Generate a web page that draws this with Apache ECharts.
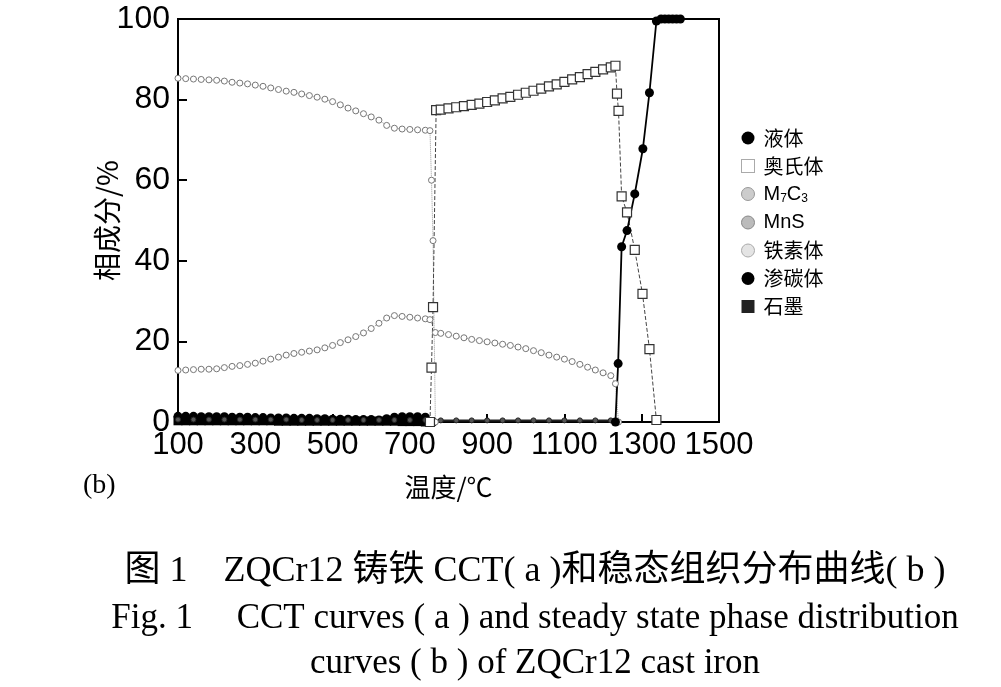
<!DOCTYPE html>
<html><head><meta charset="utf-8">
<script src="https://cdn.jsdelivr.net/npm/echarts@6/dist/echarts.min.js"></script>
<style>html,body{margin:0;padding:0;background:#fff}#c{width:1001px;height:687px}</style>
</head><body><div id="c"></div>
<script>
// ---- data (temperature °C, phase fraction %) ----
const liquidT = [1232, 1239, 1248, 1262, 1282, 1303, 1320, 1338, 1350, 1360, 1370, 1380, 1390, 1400];
const liquidV = [0, 14.5, 43.5, 47.5, 56.6, 67.8, 81.7, 99.5, 100, 100, 100, 100, 100, 100];

const austeniteT = [752, 756, 760, 768, 780, 800, 820, 840, 860, 880, 900, 920, 940, 960, 980, 1000, 1020, 1040, 1060, 1080, 1100, 1120, 1140, 1160, 1180, 1200, 1220, 1232, 1236, 1240, 1248, 1262, 1282, 1302, 1320, 1338];
const austeniteV = [0, 13.5, 28.5, 77.4, 77.5, 77.8, 78.1, 78.4, 78.7, 79.0, 79.4, 79.8, 80.3, 80.7, 81.2, 81.7, 82.2, 82.7, 83.3, 83.8, 84.4, 85.0, 85.6, 86.3, 86.9, 87.5, 88.0, 88.4, 81.5, 77.2, 56.0, 52.0, 42.7, 31.8, 18.1, 0.5];

const m7c3T = [100, 120, 140, 160, 180, 200, 220, 240, 260, 280, 300, 320, 340, 360, 380, 400, 420, 440, 460, 480, 500, 520, 540, 560, 580, 600, 620, 640, 660, 680, 700, 720, 740, 752, 766, 780, 800, 820, 840, 860, 880, 900, 920, 940, 960, 980, 1000, 1020, 1040, 1060, 1080, 1100, 1120, 1140, 1160, 1180, 1200, 1220, 1232, 1240];
const m7c3V = [12.8, 12.9, 13.0, 13.1, 13.1, 13.2, 13.5, 13.8, 14.0, 14.3, 14.6, 15.1, 15.6, 16.1, 16.6, 17.0, 17.3, 17.6, 17.9, 18.4, 19.0, 19.7, 20.4, 21.2, 22.1, 23.2, 24.5, 25.8, 26.4, 26.2, 26.0, 25.8, 25.6, 25.4, 22.2, 22.0, 21.7, 21.3, 20.9, 20.5, 20.2, 19.9, 19.6, 19.3, 19.0, 18.6, 18.2, 17.7, 17.2, 16.6, 16.1, 15.6, 15.0, 14.3, 13.6, 12.9, 12.2, 11.5, 9.5, 0];

const mnsT = [100, 140, 180, 220, 260, 300, 340, 380, 420, 460, 500, 540, 580, 620, 660, 700, 740, 780, 820, 860, 900, 940, 980, 1020, 1060, 1100, 1140, 1180, 1220, 1240];
const mnsV = [0.6, 0.6, 0.6, 0.6, 0.6, 0.6, 0.6, 0.6, 0.5, 0.5, 0.5, 0.5, 0.5, 0.5, 0.5, 0.5, 0.5, 0.4, 0.4, 0.4, 0.4, 0.4, 0.4, 0.4, 0.4, 0.4, 0.4, 0.4, 0.4, 0];

const ferriteT = [100, 120, 140, 160, 180, 200, 220, 240, 260, 280, 300, 320, 340, 360, 380, 400, 420, 440, 460, 480, 500, 520, 540, 560, 580, 600, 620, 640, 660, 680, 700, 720, 740, 752, 756, 760, 766];
const ferriteV = [85.3, 85.2, 85.1, 85.0, 84.9, 84.8, 84.6, 84.3, 84.1, 83.9, 83.6, 83.3, 82.9, 82.5, 82.1, 81.8, 81.4, 81.0, 80.6, 80.1, 79.5, 78.7, 77.9, 77.2, 76.5, 75.7, 74.9, 73.6, 72.9, 72.7, 72.6, 72.5, 72.4, 72.3, 60.0, 45.0, 0];

const cementiteT = [100, 120, 140, 160, 180, 200, 220, 240, 260, 280, 300, 320, 340, 360, 380, 400, 420, 440, 460, 480, 500, 520, 540, 560, 580, 600, 620, 640, 660, 680, 700, 720, 740, 760];
const cementiteV = [1.4, 1.4, 1.4, 1.3, 1.3, 1.3, 1.3, 1.2, 1.2, 1.2, 1.1, 1.1, 1.0, 1.0, 1.0, 0.9, 0.9, 0.9, 0.8, 0.8, 0.7, 0.7, 0.7, 0.6, 0.6, 0.6, 0.5, 0.8, 1.2, 1.3, 1.3, 1.3, 1.2, 0];

const graphiteT = [100, 120, 140, 160, 180, 200, 220, 240, 260, 280, 300, 320, 340, 360, 380, 400, 420, 440, 460, 480, 500, 520, 540, 560, 580, 600, 620, 640, 660, 680, 700, 720, 740];
const graphiteV = [0.3, 0.3, 0.3, 0.3, 0.3, 0.3, 0.3, 0.3, 0.3, 0.3, 0.3, 0.3, 0.3, 0.2, 0.2, 0.2, 0.2, 0.2, 0.2, 0.2, 0.2, 0.2, 0.2, 0.2, 0.2, 0.2, 0.2, 0.2, 0.2, 0.1, 0.1, 0.1, 0];

const legendNames = ['液体', '奥氏体', 'M7C3', 'MnS', '铁素体', '渗碳体', '石墨'];
const xTicks = [100, 300, 500, 700, 900, 1100, 1300, 1500];
const yTicks = [0, 20, 40, 60, 80, 100];

// ---- chart ----
const zip = (t, v) => t.map((x, i) => [x, v[i]]);
const chart = echarts.init(document.getElementById('c'), null, {renderer: 'canvas'});
const sans = '"Liberation Sans", Arial, "Noto Sans CJK SC", sans-serif';
const cjk = '"Noto Sans CJK SC", "Liberation Sans", sans-serif';
const serif = '"Liberation Serif", "Times New Roman", "Noto Sans CJK SC", serif';

function lineSeries(name, t, v, o) {
  return Object.assign({
    name, type: 'line', data: zip(t, v), showSymbol: true, animation: false,
    symbol: 'circle', symbolSize: 6,
    lineStyle: {color: '#999', width: 1, type: 'dotted'},
    itemStyle: {color: '#fff', borderColor: '#999', borderWidth: 1}
  }, o);
}

chart.setOption({
  animation: false,
  backgroundColor: '#fff',
  grid: {left: 178, right: 282, top: 19, bottom: 265, show: true, borderColor: '#000', borderWidth: 2},
  xAxis: {
    type: 'value', min: 100, max: 1500, interval: 200,
    axisLine: {show: true, lineStyle: {color: '#000', width: 2}},
    axisTick: {show: true, inside: true, length: 8, lineStyle: {color: '#000', width: 2}},
    axisLabel: {color: '#000', fontSize: 31, fontFamily: sans, margin: 8,
      showMinLabel: true, showMaxLabel: true, hideOverlap: false,
      formatter: v => xTicks.indexOf(v) >= 0 ? String(v) : ''},
    splitLine: {show: false},
    name: '温度/℃', nameLocation: 'middle', nameGap: 52, nameMoveOverlap: false,
    nameTextStyle: {color: '#000', fontSize: 26, fontFamily: cjk}
  },
  yAxis: {
    type: 'value', min: 0, max: 100, interval: 20,
    axisLine: {show: true, lineStyle: {color: '#000', width: 2}},
    axisTick: {show: true, inside: true, length: 9, lineStyle: {color: '#000', width: 2}},
    axisLabel: {color: '#000', fontSize: 32, fontFamily: sans, margin: 8,
      formatter: v => yTicks.indexOf(v) >= 0 ? String(v) : ''},
    splitLine: {show: false},
    name: '相成分/%', nameLocation: 'middle', nameGap: 57, nameMoveOverlap: false,
    nameTextStyle: {color: '#000', fontSize: 28, fontFamily: cjk}
  },
  legend: {
    orient: 'vertical', left: 736, top: 123, itemWidth: 13, itemHeight: 13, itemGap: 8,
    textStyle: {color: '#000', fontSize: 20, fontFamily: cjk, lineHeight: 20, padding: [0, 0, 0, 4],
      rich: {s: {fontSize: 12, fontFamily: sans, padding: [9, 0, 0, 0]}, n: {fontSize: 20, fontFamily: sans}}},
    formatter: n => n === 'M7C3' ? '{n|M}{s|7}{n|C}{s|3}' : (n === 'MnS' ? '{n|MnS}' : n),
    data: [
      {name: '液体', icon: 'circle', itemStyle: {color: '#000'}},
      {name: '奥氏体', icon: 'rect', itemStyle: {color: '#fff', borderColor: '#555', borderWidth: 1, borderType: 'dotted'}},
      {name: 'M7C3', icon: 'circle', itemStyle: {color: '#ccc', borderColor: '#999', borderWidth: 1}},
      {name: 'MnS', icon: 'circle', itemStyle: {color: '#bbb', borderColor: '#888', borderWidth: 1}},
      {name: '铁素体', icon: 'circle', itemStyle: {color: '#e4e4e4', borderColor: '#aaa', borderWidth: 1}},
      {name: '渗碳体', icon: 'circle', itemStyle: {color: '#000'}},
      {name: '石墨', icon: 'rect', itemStyle: {color: '#222'}}
    ]
  },
  graphic: [
    {type: 'text', left: 83, top: 472, style: {text: '(b)', font: '28px ' + serif, fill: '#000'}},
    {type: 'text', x: 535, y: 572, style: {text: '图 1    ZQCr12 铸铁 CCT( a )和稳态组织分布曲线( b )', font: '36px ' + serif, fill: '#000', textAlign: 'center', textVerticalAlign: 'middle'}},
    {type: 'text', x: 535, y: 619, style: {text: 'Fig. 1     CCT curves ( a ) and steady state phase distribution', font: '35px ' + serif, fill: '#000', textAlign: 'center', textVerticalAlign: 'middle'}},
    {type: 'text', x: 535, y: 664, style: {text: 'curves ( b ) of ZQCr12 cast iron', font: '35px ' + serif, fill: '#000', textAlign: 'center', textVerticalAlign: 'middle'}}
  ],
  series: [
    lineSeries('石墨', graphiteT, graphiteV, {symbol: 'rect', symbolSize: 9, lineStyle: {color: '#000', width: 3}, itemStyle: {color: '#000'}}),
    lineSeries('渗碳体', cementiteT, cementiteV, {symbol: 'circle', symbolSize: 9, lineStyle: {color: '#000', width: 3}, itemStyle: {color: '#000'}}),
    lineSeries('MnS', mnsT, mnsV, {symbolSize: 5, lineStyle: {color: '#222', width: 2}, itemStyle: {color: '#555', borderColor: '#222'}}),
    lineSeries('铁素体', ferriteT, ferriteV, {symbolSize: 6, lineStyle: {color: '#999', width: 1, type: 'dotted'}, itemStyle: {color: '#fff', borderColor: '#777', borderWidth: 1}}),
    lineSeries('M7C3', m7c3T, m7c3V, {symbolSize: 6, lineStyle: {color: '#999', width: 1, type: 'dotted'}, itemStyle: {color: '#fff', borderColor: '#777', borderWidth: 1}}),
    lineSeries('奥氏体', austeniteT, austeniteV, {symbol: 'rect', symbolSize: 9, lineStyle: {color: '#444', width: 1, type: 'dashed'}, itemStyle: {color: '#fff', borderColor: '#333', borderWidth: 1.2}}),
    lineSeries('液体', liquidT, liquidV, {symbol: 'circle', symbolSize: 9, lineStyle: {color: '#000', width: 1.8}, itemStyle: {color: '#000'}})
  ]
});
</script></body></html>
